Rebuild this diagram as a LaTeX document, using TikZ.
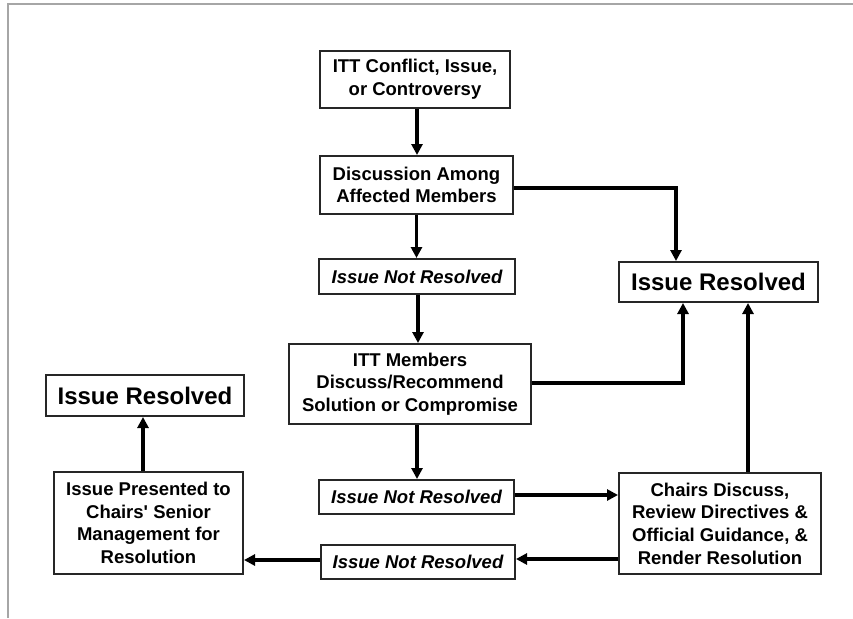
\documentclass[tikz,border=0pt]{standalone}
\usepackage{fontspec}
\setmainfont{Liberation Sans}
\usetikzlibrary{arrows.meta}
\begin{document}
\begin{tikzpicture}[x=1pt,y=-1pt,
  box/.style={draw=black!85, line width=2pt, rectangle, inner sep=0pt, align=center,
    font=\fontsize{18.5}{22.7}\selectfont\bfseries},
  nres/.style={box, font=\fontsize{18.5}{22.7}\selectfont\bfseries\itshape},
  done/.style={box, font=\fontsize{24}{28}\selectfont\bfseries},
  arr/.style={line width=3.2pt, -{Triangle[length=11pt,width=11pt]}}]
\useasboundingbox (0,0) rectangle (853,618);
% page frame
\draw[black!35, line width=1.5pt] (8,618) -- (8,4) -- (853,4);

% boxes
\node[box, minimum width=190pt, minimum height=57pt] (b1) at (415,79.5)
  {ITT Conflict, Issue,\\or Controversy};
\node[box, minimum width=193pt, minimum height=58pt] (b2) at (416.5,185)
  {Discussion Among\\Affected Members};
\node[nres, minimum width=196pt, minimum height=35pt] (n1) at (417,276.5)
  {Issue Not Resolved};
\node[done, minimum width=199pt, minimum height=40pt] (rR) at (718.5,282)
  {Issue Resolved};
\node[box, minimum width=242pt, minimum height=80pt] (b4) at (410,384)
  {ITT Members\\Discuss/Recommend\\Solution or Compromise};
\node[nres, minimum width=195pt, minimum height=34pt] (n2) at (416.5,497)
  {Issue Not Resolved};
\node[box, minimum width=202pt, minimum height=101pt] (ch) at (720,523.5)
  {Chairs Discuss,\\Review Directives \&\\Official Guidance, \&\\Render Resolution};
\node[nres, minimum width=194pt, minimum height=34pt] (n3) at (418,562)
  {Issue Not Resolved};
\node[box, minimum width=189pt, minimum height=102pt] (pr) at (148.5,523)
  {Issue Presented to\\Chairs\textquotesingle{} Senior\\Management for\\Resolution};
\node[done, minimum width=198pt, minimum height=41pt] (rL) at (145,395.5)
  {Issue Resolved};

% connectors
\draw[arr] ([xshift=2pt]b1.south) -- ([xshift=2pt]b1.south |- b2.north);
\draw[arr] (b2.south) -- (b2.south |- n1.north);
\draw[arr] ([yshift=-3pt]b2.east) -| ([xshift=-42.5pt]rR.north);
\draw[arr] ([xshift=1pt]n1.south) -- ([xshift=1pt]n1.south |- b4.north);
\draw[arr] ([yshift=1pt]b4.east) -| ([xshift=-35.5pt]rR.south);
\draw[arr] ([xshift=7pt]b4.south) -- ([xshift=7pt]b4.south |- n2.north);
\draw[arr] ([xshift=28pt]ch.north) -- ([xshift=28pt]ch.north |- rR.south);
\draw[arr] ([yshift=2pt]n2.east) -- ([yshift=2pt]n2.east -| ch.west);
\draw[arr] ([yshift=-35.5pt]ch.west) -- ([yshift=-35.5pt]ch.west -| n3.east);
\draw[arr] ([yshift=2pt]n3.west) -- ([yshift=2pt]n3.west -| pr.east);
\draw[arr] ([xshift=-5.5pt]pr.north) -- ([xshift=-5.5pt]pr.north |- rL.south);
\end{tikzpicture}
\end{document}
